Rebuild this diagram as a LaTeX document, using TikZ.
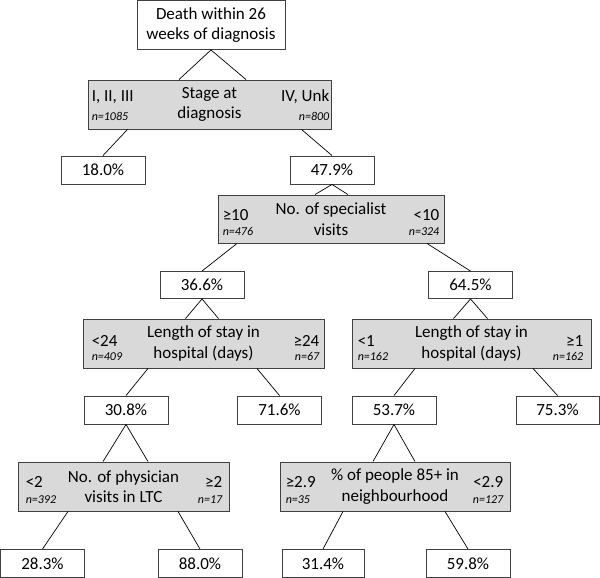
\documentclass[tikz,border=0pt]{standalone}
\usepackage{fontspec}
\setmainfont{Carlito}
\usetikzlibrary{calc}
\definecolor{boxgray}{HTML}{D9D9D9}
\definecolor{edgecol}{HTML}{404040}
\newcommand\mainsz{\fontsize{17}{20.5}\selectfont}
\newcommand\nsz{\fontsize{12}{14}\selectfont\itshape}
% #1 node, #2 left pad, #3 right pad, #4 baseline offset of side labels,
% #5 left label, #6 left n, #7 right label, #8 right n
\newcommand\splitlab[8]{%
  \node[side, anchor=base west] (#1-l) at ($(#1.west)+(#2,#4)$) {#5};
  \node[nlab, anchor=base west] (#1-ln) at ($(#1.west)+(#2,16.5)$) {#6};
  \node[side, anchor=base east] (#1-r) at ($(#1.east)+(-#3,#4)$) {#7};
  \node[nlab, anchor=base east] (#1-rn) at ($(#1.east)+(-#3,16.5)$) {#8};
}
\begin{document}
\begin{tikzpicture}[x=1pt,y=-1pt,
  pct/.style={draw=edgecol, line width=0.9pt, fill=white, minimum width=84pt, minimum height=28pt, inner sep=0pt, font=\mainsz},
  split/.style={draw=edgecol, line width=0.9pt, fill=boxgray, minimum height=49pt, inner sep=0pt, align=center, font=\mainsz},
  side/.style={inner sep=0pt, font=\mainsz},
  nlab/.style={inner sep=0pt, font=\nsz},
  conn/.style={draw=black, line width=0.7pt}]
\useasboundingbox (0,0) rectangle (600,578);
\fill[white] (0,0) rectangle (600,578);

% nodes
\node[split, fill=white, minimum width=148pt, minimum height=49pt] (root) at (211,25) {Death within 26\\weeks of diagnosis};
\node[split, minimum width=243pt] (stage) at (209.5,104.5) {Stage at\\diagnosis};
\splitlab{stage}{4}{2}{-3}{I, II, III}{n=1085}{IV, Unk}{n=800}
\node[pct] (p18) at (103,170) {18.0\%};
\node[pct] (p479) at (332,170) {47.9\%};
\node[split, minimum width=226pt, minimum height=48pt] (spec) at (331,219) {No. of specialist\\visits};
\splitlab{spec}{5}{5}{1}{≥10}{n=476}{<10}{n=324}
\node[pct, minimum height=27pt] (p366) at (202,285) {36.6\%};
\node[pct, minimum height=27pt] (p645) at (470.5,285) {64.5\%};
\node[split, minimum width=241pt] (lenL) at (203.5,343.5) {Length of stay in\\hospital (days)};
\splitlab{lenL}{9}{5}{3}{<24}{n=409}{≥24}{n=67}
\node[split, minimum width=239pt] (lenR) at (471.5,343.5) {Length of stay in\\hospital (days)};
\splitlab{lenR}{6}{8}{3}{<1}{n=162}{≥1}{n=162}
\node[pct] (p308) at (126,410) {30.8\%};
\node[pct] (p716) at (279.5,410) {71.6\%};
\node[pct] (p537) at (394,410) {53.7\%};
\node[pct, minimum width=83pt] (p753) at (557.5,410) {75.3\%};
\node[split, minimum width=211pt] (phys) at (123.5,486.5) {No. of physician\\visits in LTC};
\splitlab{phys}{8}{7}{1}{<2}{n=392}{≥2}{n=17}
\node[split, minimum width=230pt] (old) at (395,486.5) {\% of people 85+ in\\neighbourhood};
\splitlab{old}{6}{7}{1}{≥2.9}{n=35}{<2.9}{n=127}
\node[pct, minimum width=83.5pt] (p283) at (42.5,563.5) {28.3\%};
\node[pct] (p880) at (200,563.5) {88.0\%};
\node[pct, minimum width=82pt] (p314) at (323,563.5) {31.4\%};
\node[pct] (p598) at (468,563.5) {59.8\%};

% connectors
\draw[conn] (root.south) -- ($(root.south |- stage.north)+(-32,0)$);
\draw[conn] (root.south) -- ($(root.south |- stage.north)+(35,0)$);
\draw[conn] ($(stage.south)+(-82,0)$) -- (p18.north);
\draw[conn] ($(stage.south)+(92,0)$) -- (p479.north);
\draw[conn] (p479.south) -- ($(p479.south |- spec.north)+(-17,0)$);
\draw[conn] (p479.south) -- ($(p479.south |- spec.north)+(16,0)$);
\draw[conn] ($(spec.south)+(-94,0)$) -- (p366.north);
\draw[conn] ($(spec.south)+(96,0)$) -- (p645.north);
\draw[conn] (p366.south) -- ($(p366.south |- lenL.north)+(-16.5,0)$);
\draw[conn] (p366.south) -- ($(p366.south |- lenL.north)+(16.5,0)$);
\draw[conn] (p645.south) -- ($(p645.south |- lenR.north)+(-17,0)$);
\draw[conn] (p645.south) -- ($(p645.south |- lenR.north)+(17,0)$);
\draw[conn] ($(lenL.south)+(-55.5,0)$) -- (p308.north);
\draw[conn] ($(lenL.south)+(53.5,0)$) -- (p716.north);
\draw[conn] ($(lenR.south)+(-56.5,0)$) -- (p537.north);
\draw[conn] ($(lenR.south)+(61.5,0)$) -- (p753.north);
\draw[conn] (p308.south) -- ($(p308.south |- phys.north)+(-23,0)$);
\draw[conn] (p308.south) -- ($(p308.south |- phys.north)+(22,0)$);
\draw[conn] (p537.south) -- ($(p537.south |- old.north)+(-21,0)$);
\draw[conn] (p537.south) -- ($(p537.south |- old.north)+(21,0)$);
\draw[conn] ($(phys.south)+(-55.5,0)$) -- (p283.north);
\draw[conn] ($(phys.south)+(54.5,0)$) -- (p880.north);
\draw[conn] ($(old.south)+(-52,0)$) -- (p314.north);
\draw[conn] ($(old.south)+(50,0)$) -- (p598.north);
\end{tikzpicture}
\end{document}
